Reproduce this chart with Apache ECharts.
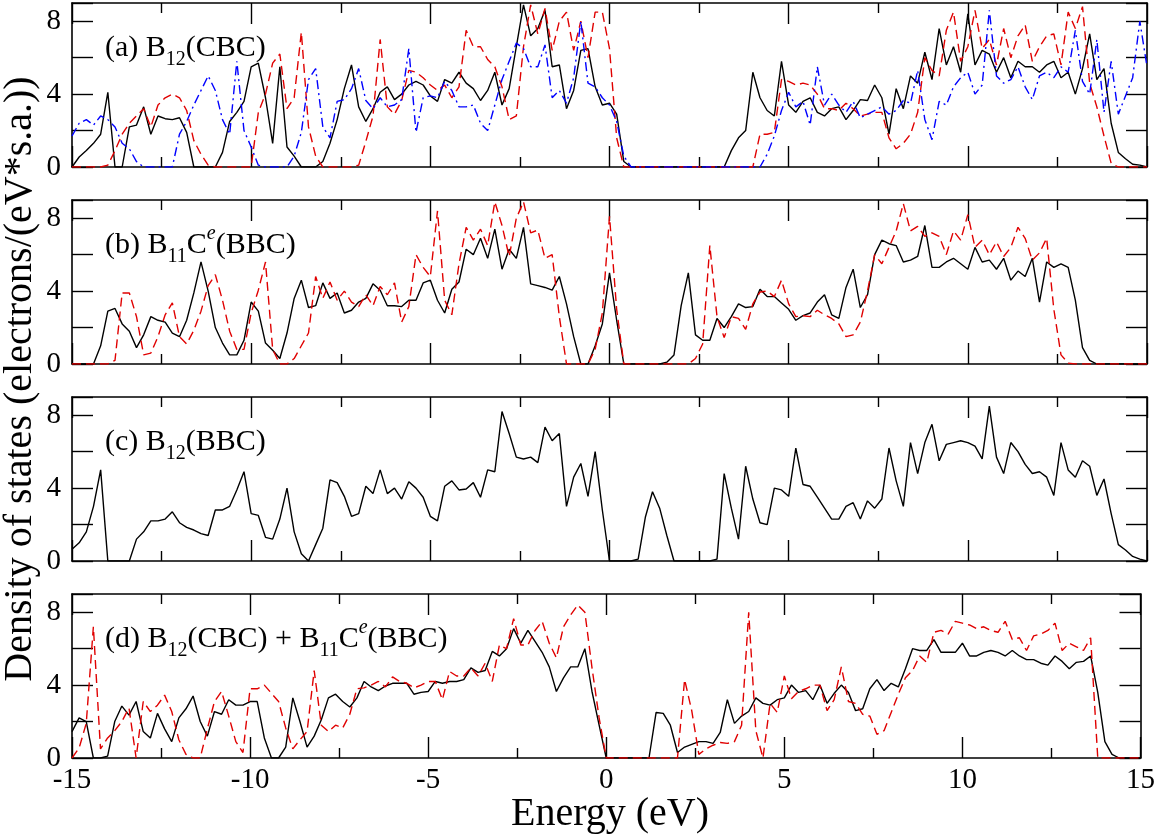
<!DOCTYPE html>
<html>
<head>
<meta charset="utf-8">
<script src="https://cdn.jsdelivr.net/npm/echarts@6/dist/echarts.min.js"></script>
<style>
  html, body { margin: 0; padding: 0; background: #fff; }
  #chart { width: 1158px; height: 837px; }
</style>
</head>
<body>
<div id="chart"></div>
<script>
// sample grid: -15 .. 15 eV in 0.2 eV steps (151 points)
var energy = [];
for (var i = 0; i <= 150; i++) energy.push(Math.round((-15 + i * 0.2) * 10) / 10);

var xTicks = [-15, -10, -5, 0, 5, 10, 15];
var yTicks = [0, 4, 8];

// (a) B12(CBC) - black solid, red dashed, blue dash-dot
var dosA_black = [
  0, 0.55, 0.9, 1.3, 1.8, 4.1, 0, 0, 2.2, 2.3,
  3.3, 1.8, 2.8, 2.65, 2.6, 2.7, 1.9, 0, 0, 0,
  0, 0.8, 2.5, 3.0, 3.6, 5.5, 5.7, 3.8, 1.3, 5.5,
  1.1, 0.6, 0, 0, 0, 0.3, 1.3, 2.6, 4.3, 5.6,
  3.3, 2.5, 3.2, 4.1, 4.4, 3.7, 4.0, 4.5, 4.7, 4.5,
  3.9, 3.6, 4.8, 4.6, 5.2, 4.6, 4.3, 3.65, 4.2, 5.2,
  3.4, 4.3, 6.6, 8.9, 7.2, 7.6, 8.6, 5.5, 5.6, 3.2,
  4.2, 6.4, 6.5, 4.4, 3.4, 3.5, 2.9, 0.3, 0, 0,
  0, 0, 0, 0, 0, 0, 0, 0, 0, 0,
  0, 0, 0.9, 1.6, 2.0, 5.2, 3.8, 3.1, 2.8, 5.8,
  3.4, 3.0, 3.6, 3.8, 3.0, 2.8, 3.2, 3.3, 2.6, 3.1,
  3.7, 3.65, 4.5, 3.8, 1.8, 4.3, 3.2, 5.0, 4.6, 6.3,
  4.8, 7.6, 5.6, 6.6, 5.2, 8.4, 5.6, 6.4, 6.2, 5.2,
  6.0, 4.9, 5.8, 5.5, 5.5, 5.2, 5.6, 5.8, 4.9, 5.2,
  4.0, 5.4, 7.3, 4.8, 5.4, 2.4, 0.8, 0.45, 0.15, 0.1,
  0
];
var dosA_red = [
  0, 0, 0, 0, 0, 0.1, 0.9, 1.8, 2.4, 2.8,
  3.2, 2.2, 3.4, 3.8, 4.0, 3.8, 3.1, 1.45, 0.7, 0.1,
  0, 0, 0, 0, 0, 0, 3.0, 4.0, 5.7, 6.2,
  3.2, 3.8, 7.4, 2.2, 0.6, 0, 0, 0, 0, 0,
  0.1, 1.4, 2.8, 7.0, 3.3, 2.9, 3.65, 5.3, 5.2, 4.9,
  4.5, 4.2, 4.5, 3.8, 4.4, 7.5, 6.6, 6.6, 5.9, 5.5,
  4.4, 2.6, 2.8, 6.6, 8.9, 7.3, 8.7, 6.4, 8.0, 8.5,
  6.4, 8.0, 6.0, 8.5, 8.5, 6.5, 1.6, 0, 0, 0,
  0, 0, 0, 0, 0, 0, 0, 0, 0, 0,
  0, 0, 0, 0, 0, 0, 1.8, 1.8, 1.9, 4.8,
  4.7, 4.5, 4.6, 4.5, 4.0, 3.2, 3.2, 3.1, 3.5, 3.2,
  2.8, 2.9, 3.0, 3.0, 1.6, 1.0, 1.3, 1.8, 3.0, 6.0,
  5.3, 5.0, 7.5, 8.5, 5.8, 6.6, 8.6, 6.5, 7.0, 5.6,
  7.6, 6.0, 7.2, 7.8, 5.8, 6.6, 7.2, 7.3, 5.6, 8.5,
  7.6, 8.8, 4.6, 3.3, 1.7, 0.2, 0, 0, 0, 0,
  0
];
var dosA_blue = [
  1.7, 2.4, 2.6, 2.3, 2.8, 2.6, 2.2, 1.3, 1.0, 0.3,
  0, 0, 0, 0, 0, 1.8, 2.5, 3.4, 4.2, 5.0,
  4.2, 2.6, 1.8, 5.8, 2.0, 1.1, 0.1, 0, 0, 0,
  0, 0.6, 1.9, 4.8, 5.4, 2.2, 1.6, 3.6, 3.7, 4.3,
  5.4, 3.65, 3.2, 3.8, 3.3, 3.4, 3.7, 6.5, 1.9, 3.8,
  3.9, 3.8, 4.7, 4.2, 3.3, 3.3, 3.4, 2.4, 2.0, 3.4,
  4.8, 5.8, 6.8, 6.5, 5.5, 5.5, 6.7, 3.8, 4.2, 3.5,
  4.9, 8.0, 4.6, 4.4, 3.8, 3.4, 2.5, 0.6, 0, 0,
  0, 0, 0, 0, 0, 0, 0, 0, 0, 0,
  0, 0, 0, 0, 0, 0, 0, 0.7, 1.7, 3.1,
  4.1, 3.3, 3.6, 2.3, 5.5, 3.4, 4.0, 3.4, 3.0, 3.6,
  2.7, 2.9, 3.1, 3.3, 2.9, 3.1, 3.65, 3.5, 5.3, 2.6,
  1.5, 3.6, 3.4, 4.4, 4.9, 5.2, 4.0, 4.5, 8.6, 5.0,
  4.6, 4.8, 5.5, 4.4, 3.7, 5.0, 5.2, 4.9, 5.5, 5.2,
  7.5, 4.7, 4.0, 7.0, 3.0, 5.8, 2.9, 3.9, 4.9, 8.0,
  5.5
];

// (b) B11Ce(BBC)
var dosB_black = [
  0, 0, 0, 0, 1.0, 2.9, 3.05, 2.2, 1.8, 0.9,
  1.6, 2.6, 2.4, 2.3, 1.7, 1.5, 2.4, 3.9, 5.6, 4.0,
  2.0, 1.15, 0.5, 0.5, 1.3, 3.4, 2.9, 1.15, 0.75, 0.3,
  1.7, 3.6, 4.6, 3.1, 3.2, 4.45, 3.6, 3.9, 2.8, 2.95,
  3.4, 3.6, 4.4, 4.05, 3.2, 3.2, 3.15, 3.5, 3.5, 4.45,
  4.6, 3.5, 2.8, 4.1, 4.5, 6.3, 6.0, 6.9, 5.8, 7.4,
  5.2, 6.3, 5.8, 7.5, 4.4, 4.3, 4.2, 4.05, 4.8, 3.3,
  1.5, 0, 0, 1.0, 2.2, 5.0, 2.4, 0, 0, 0,
  0, 0, 0, 0.1, 0.5, 3.2, 5.0, 1.6, 1.3, 1.3,
  2.5, 2.0, 2.6, 3.3, 3.1, 3.15, 4.1, 3.7, 3.7, 3.35,
  3.0, 2.4, 2.65, 2.8, 3.4, 3.8, 2.7, 2.5, 4.2, 5.2,
  3.1, 3.8, 6.0, 6.8, 6.6, 6.5, 5.6, 5.7, 5.9, 7.6,
  5.3, 5.3, 5.6, 5.8, 5.5, 5.2, 6.4, 5.6, 5.7, 5.2,
  5.8, 4.6, 5.1, 4.8, 5.8, 3.4, 5.6, 5.3, 5.5, 5.3,
  3.5, 0.9, 0.2, 0, 0, 0, 0, 0, 0, 0,
  0
];
var dosB_red = [
  0, 0, 0, 0, 0, 0, 0.2, 3.9, 3.9, 2.6,
  0.5, 0.6, 1.5, 2.7, 3.35, 1.5, 1.1, 1.85, 2.9, 4.3,
  4.9, 3.5, 1.8, 0.8, 0.8, 2.8, 4.05, 5.6, 0.8, 0,
  0, 0.3, 1.0, 1.7, 4.8, 3.6, 4.5, 3.5, 4.0, 3.4,
  3.15, 3.8, 3.2, 4.25, 3.8, 4.45, 2.3, 3.15, 6.0, 5.3,
  4.8, 8.4, 3.5, 2.7, 5.5, 7.5, 6.8, 7.4, 6.5, 8.9,
  7.6, 5.9, 8.0, 8.9, 7.2, 7.35, 5.8, 6.0, 2.6, 0,
  0, 0, 0, 0.8, 2.8, 8.1, 3.0, 0, 0, 0,
  0, 0, 0, 0, 0, 0, 0, 0.3, 1.1, 6.5,
  2.6, 1.45, 2.6, 2.5, 1.9, 3.3, 3.95, 4.0, 3.7, 4.6,
  3.3, 2.6, 2.65, 2.6, 2.95, 2.7, 2.5, 2.2, 1.5, 1.6,
  2.3, 4.0, 6.0, 5.5, 6.4, 7.3, 8.8, 7.3, 7.55, 7.0,
  7.2, 7.0, 6.0, 7.3, 6.8, 8.2, 6.4, 6.8, 6.0, 6.7,
  5.9, 6.4, 7.5, 6.9, 5.7, 6.1, 6.9, 3.0, 0.5, 0.05,
  0, 0, 0, 0, 0, 0, 0, 0, 0, 0,
  0
];

// (c) B12(BBC)
var dosC_black = [
  0.65, 1.0, 1.6, 3.0, 5.0, 0, 0, 0, 0, 1.2,
  1.6, 2.2, 2.2, 2.3, 2.7, 2.1, 1.85, 1.7, 1.5, 1.4,
  2.8, 2.8, 3.0, 3.9, 4.9, 2.6, 2.5, 1.3, 1.2, 2.3,
  4.0, 1.6, 0.4, 0, 0.9, 1.8, 4.45, 4.3, 3.55, 2.45,
  2.6, 4.1, 3.7, 5.0, 3.7, 4.0, 3.4, 4.35, 4.0, 3.5,
  2.45, 2.2, 4.1, 4.4, 3.9, 3.95, 4.3, 3.5, 5.0, 4.9,
  8.2, 7.0, 5.7, 5.6, 5.7, 5.4, 7.35, 6.6, 7.0, 3.0,
  4.6, 5.35, 3.55, 6.0, 2.8, 0, 0, 0, 0, 0.1,
  2.4, 3.8, 2.9, 1.4, 0, 0, 0, 0, 0, 0,
  0.1, 4.8, 2.9, 1.2, 5.2, 3.4, 2.1, 2.0, 4.0, 3.9,
  3.55, 6.2, 4.2, 4.1, 3.5, 2.9, 2.3, 2.3, 3.0, 3.2,
  2.3, 3.3, 2.9, 3.4, 6.2, 4.4, 3.0, 6.5, 4.8, 6.5,
  7.5, 5.5, 6.4, 6.5, 6.6, 6.5, 6.3, 5.6, 8.5, 5.7,
  4.8, 6.5, 6.0, 5.3, 4.8, 4.9, 4.6, 3.6, 6.5, 5.0,
  4.6, 5.5, 5.2, 3.6, 4.5, 2.6, 0.9, 0.6, 0.25, 0.1,
  0
];

// (d) B12(CBC) + B11Ce(BBC)
var dosD_black = [
  1.45, 2.2, 2.0, 0, 0, 0.1, 2.0, 2.85, 2.35, 3.1,
  1.45, 1.1, 2.45, 1.6, 0.9, 2.2, 2.7, 3.4, 2.0, 1.2,
  2.55, 2.4, 3.2, 2.9, 2.9, 3.1, 3.1, 1.1, 0, 0,
  0.6, 3.3, 2.0, 0.6, 1.2, 2.1, 3.3, 3.5, 3.1, 2.8,
  3.3, 4.2, 3.9, 3.7, 3.95, 4.1, 4.1, 4.1, 3.5, 3.6,
  3.65, 4.2, 4.1, 4.2, 4.2, 4.3, 4.95, 4.7, 4.8, 5.85,
  5.6, 6.0, 7.1, 6.3, 7.0, 6.4, 5.8, 5.0, 3.65, 4.4,
  5.0, 5.0, 6.0, 3.65, 1.8, 0, 0, 0, 0, 0,
  0, 0, 2.5, 2.45, 1.8, 0.3, 0.6, 0.75, 0.9, 0.9,
  0.8, 1.4, 3.2, 1.9, 2.3, 2.55, 3.3, 3.0, 2.9, 3.2,
  3.3, 4.0, 3.6, 3.7, 3.2, 4.0, 3.0, 3.55, 4.0, 3.6,
  2.6, 2.7, 3.8, 4.3, 3.7, 4.1, 3.9, 4.9, 6.0, 5.9,
  5.9, 6.5, 5.8, 5.8, 5.8, 6.3, 5.6, 5.6, 5.8, 5.9,
  5.8, 5.6, 5.9, 5.6, 5.4, 5.4, 5.2, 5.1, 5.6, 5.3,
  4.9, 5.25, 5.3, 5.6, 3.6, 0.9, 0.2, 0, 0, 0,
  0
];
var dosD_red = [
  0, 0.55, 1.9, 7.2, 0.5, 1.1, 1.5, 2.0, 2.75, 0,
  3.1, 2.55, 2.9, 3.45, 2.55, 1.0, 0.2, 0, 0, 1.6,
  3.1, 3.65, 2.3, 0.9, 0.3, 3.8, 3.8, 4.0, 3.55, 3.1,
  1.65, 0.5, 1.0, 1.45, 4.8, 1.8, 1.45, 1.8, 1.65, 2.4,
  3.8, 3.85, 4.0, 4.2, 3.9, 4.45, 4.2, 4.1, 3.85, 4.0,
  4.2, 4.2, 3.2, 4.75, 4.5, 4.5, 4.95, 4.5, 5.2, 4.2,
  6.2, 6.0, 7.65, 6.2, 6.2, 7.0, 7.5, 6.3, 5.5, 7.2,
  7.85, 8.4, 8.0, 4.95, 2.2, 0, 0, 0, 0, 0,
  0, 0, 0, 0, 0, 0, 4.3, 2.6, 0.2, 0.5,
  0.7, 0.85, 0.8, 0.9, 1.8, 8.0, 1.5, 0, 3.0, 2.5,
  4.5, 3.25, 3.65, 3.8, 4.0, 4.0, 2.6, 3.2, 5.0, 3.1,
  3.0, 2.4, 2.3, 1.3, 1.5, 2.5, 3.5, 4.4, 4.8, 5.6,
  5.25, 6.9, 7.0, 6.8, 7.5, 7.4, 7.3, 7.1, 7.2, 7.0,
  6.9, 7.5, 6.5, 6.6, 5.9, 6.7, 6.8, 7.0, 7.4, 5.9,
  6.3, 6.1, 5.9, 6.6, 0, 0, 0, 0, 0, 0,
  0
];

var panelTops = [3, 200, 397, 594];
var panelLabels = [
  '{n|(a) B}{sb|12}{n|(CBC)}',
  '{n|(b) B}{sb|11}{n|C}{sp|e}{n|(BBC)}',
  '{n|(c) B}{sb|12}{n|(BBC)}',
  '{n|(d) B}{sb|12}{n|(CBC) + B}{sb|11}{n|C}{sp|e}{n|(BBC)}'
];
var panelSeries = [
  [[dosA_black, 'black'], [dosA_red, 'red'], [dosA_blue, 'blue']],
  [[dosB_black, 'black'], [dosB_red, 'red']],
  [[dosC_black, 'black']],
  [[dosD_black, 'black'], [dosD_red, 'red']]
];

var serif = '"Liberation Serif", "Times New Roman", serif';
var styles = {
  black: { color: '#000000', width: 1.4, type: 'solid' },
  red:   { color: '#e00000', width: 1.4, type: [9, 5] },
  blue:  { color: '#0000ff', width: 1.4, type: [9, 4, 2, 4] }
};

function pairs(arr) {
  return energy.map(function (e, k) { return [e, arr[k]]; });
}

var line = { color: '#000', width: 1.6 };
var tick = { color: '#000', width: 1.4 };

function xAxisCfg(gi, pos, showLabel) {
  return {
    type: 'value', gridIndex: gi, position: pos,
    min: xTicks[0], max: xTicks[xTicks.length - 1], interval: 5,
    axisLine: { show: true, onZero: false, lineStyle: line },
    axisTick: { show: true, inside: true, length: 21, lineStyle: tick },
    minorTick: { show: true, splitNumber: 2, length: 10, lineStyle: tick },
    splitLine: { show: false },
    axisLabel: {
      show: showLabel, margin: 8, fontSize: 29, fontFamily: serif, color: '#000'
    }
  };
}

function yAxisCfg(gi, pos, showLabel) {
  return {
    type: 'value', gridIndex: gi, position: pos,
    min: 0, max: 9, interval: 2,
    axisLine: { show: true, onZero: false, lineStyle: line },
    axisTick: { show: true, inside: true, length: 21, lineStyle: tick },
    splitLine: { show: false },
    axisLabel: {
      show: showLabel, margin: 11, fontSize: 29, fontFamily: serif, color: '#000',
      formatter: function (v) { return yTicks.indexOf(v) >= 0 ? String(v) : ''; }
    }
  };
}

var grids = [], xAxes = [], yAxes = [], series = [], graphics = [];
var rich = {
  n:  { fontSize: 30, fontFamily: serif, fill: '#000', lineHeight: 36 },
  sb: { fontSize: 20, fontFamily: serif, fill: '#000', lineHeight: 12, height: 12, verticalAlign: 'bottom' },
  sp: { fontSize: 20, fontFamily: serif, fontStyle: 'italic', fill: '#000', lineHeight: 14, height: 14, verticalAlign: 'top' }
};

panelTops.forEach(function (top, gi) {
  grids.push({ left: 72, right: 11, top: top, height: 164 });
  xAxes.push(xAxisCfg(gi, 'bottom', gi === panelTops.length - 1));
  xAxes.push(xAxisCfg(gi, 'top', false));
  yAxes.push(yAxisCfg(gi, 'left', true));
  yAxes.push(yAxisCfg(gi, 'right', false));

  panelSeries[gi].forEach(function (s) {
    series.push({
      type: 'line',
      xAxisIndex: gi * 2,
      yAxisIndex: gi * 2,
      data: pairs(s[0]),
      showSymbol: false,
      symbol: 'none',
      lineStyle: styles[s[1]],
      clip: true,
      animation: false
    });
  });

  graphics.push({
    type: 'text', x: 105, y: top + 45, z: 100,
    style: { text: panelLabels[gi], rich: rich, align: 'left', verticalAlign: 'middle' }
  });
});

// y title: squeeze along its length so it spans the same ~620 px as the reference
var yTitle = 'Density of states (electrons/(eV*s.a.))';
var yTitleFont = '40px "Liberation Serif"';
var probe = document.createElement('canvas').getContext('2d');
probe.font = yTitleFont;
var yTitleScale = Math.min(1, 620 / probe.measureText(yTitle).width);

graphics.push({
  type: 'text', x: 20, y: 379, rotation: Math.PI / 2, scaleX: yTitleScale,
  style: {
    text: yTitle, font: yTitleFont, fill: '#000',
    align: 'center', verticalAlign: 'middle'
  }
});
graphics.push({
  type: 'text', x: 610, y: 814,
  style: {
    text: 'Energy (eV)',
    font: '40px "Liberation Serif"', fill: '#000',
    align: 'center', verticalAlign: 'middle'
  }
});

var chart = echarts.init(document.getElementById('chart'));
chart.setOption({
  animation: false,
  backgroundColor: '#ffffff',
  textStyle: { fontFamily: serif },
  grid: grids,
  xAxis: xAxes,
  yAxis: yAxes,
  series: series,
  graphic: graphics
});
</script>
</body>
</html>
